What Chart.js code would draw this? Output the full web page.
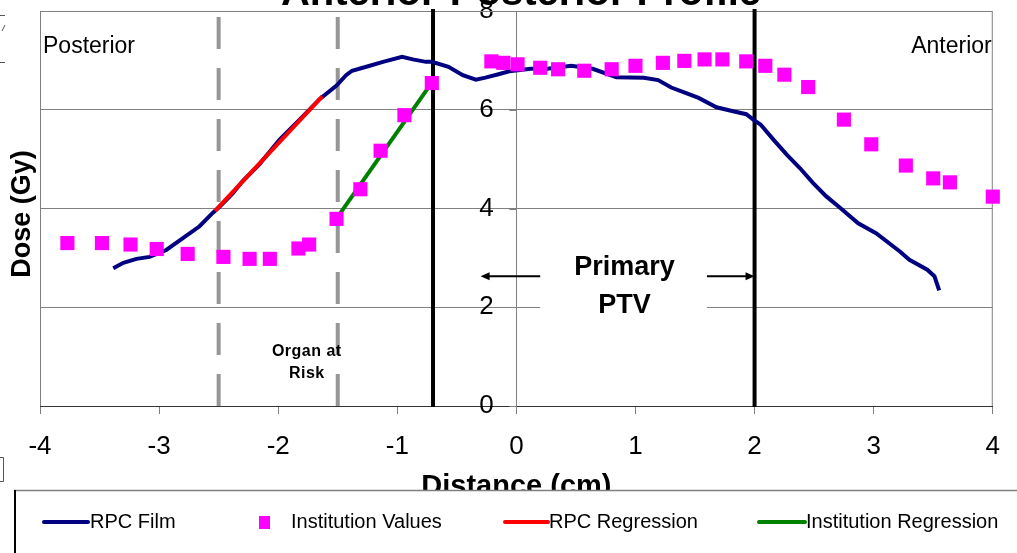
<!DOCTYPE html>
<html>
<head>
<meta charset="utf-8">
<script src="https://cdn.jsdelivr.net/npm/chart.js@4.4.1/dist/chart.umd.min.js"></script>
<style>
    body { margin: 0; background: #fff; }
    canvas { display: block; }
</style>
</head>
<body>
<canvas id="ProfileChart" width="1017" height="553"></canvas>
<script>
// RPC film profile: distance (cm) and dose (Gy)
var filmX = [-3.385, -3.30, -3.19, -3.08, -2.94, -2.80, -2.66, -2.55, -2.49, -2.38, -2.30, -2.16, -1.99, -1.82, -1.65,
    -1.51, -1.43, -1.38, -1.26, -1.12, -0.96, -0.87, -0.76, -0.71, -0.57, -0.45, -0.34, -0.26, -0.15, -0.06,
    0.12, 0.26, 0.46, 0.64, 0.84, 1.07, 1.19, 1.30, 1.42, 1.53, 1.68, 1.82, 1.93, 2.00, 2.05, 2.16, 2.27,
    2.38, 2.49, 2.60, 2.72, 2.87, 3.02, 3.22, 3.30, 3.45, 3.51, 3.55];
var filmDose = [2.79, 2.90, 2.98, 3.02, 3.16, 3.40, 3.64, 3.91, 4.04, 4.31, 4.55, 4.89, 5.39, 5.80, 6.22,
    6.49, 6.70, 6.79, 6.87, 6.97, 7.07, 7.02, 6.97, 6.97, 6.87, 6.70, 6.61, 6.65, 6.72, 6.78,
    6.83, 6.83, 6.89, 6.83, 6.66, 6.65, 6.60, 6.45, 6.34, 6.24, 6.05, 5.97, 5.91, 5.78, 5.70, 5.39, 5.09,
    4.82, 4.52, 4.25, 4.01, 3.70, 3.50, 3.13, 2.96, 2.76, 2.63, 2.34];

// Institution point values
var instX = [-3.77, -3.48, -3.24, -3.02, -2.76, -2.46, -2.24, -2.07, -1.83, -1.74, -1.51, -1.31, -1.14, -0.94, -0.71,
    -0.21, -0.11, 0.01, 0.20, 0.35, 0.57, 0.80, 1.00, 1.23, 1.41, 1.58, 1.73, 1.93, 2.09, 2.25, 2.45,
    2.75, 2.98, 3.27, 3.50, 3.64, 4.00];
var instDose = [3.30, 3.30, 3.27, 3.18, 3.08, 3.02, 2.98, 2.98, 3.19, 3.27, 3.79, 4.39, 5.17, 5.89, 6.54,
    6.98, 6.95, 6.92, 6.85, 6.82, 6.79, 6.82, 6.89, 6.95, 6.99, 7.02, 7.02, 6.98, 6.89, 6.71, 6.46,
    5.80, 5.30, 4.87, 4.61, 4.53, 4.24];

// Regression lines (end points)
var rpcRegX = [-2.53, -1.63];
var rpcRegDose = [3.95, 6.27];
var instRegX = [-1.48, -0.71];
var instRegDose = [3.90, 6.55];

// Axis ticks
var distanceTicks = [-4, -3, -2, -1, 0, 1, 2, 3, 4];
var doseTicks = [0, 2, 4, 6, 8];

// Region markers
var organBounds = [-2.5, -1.5];
var ptvBounds = [-0.7, 2];
var ptvArrowDose = 2.63;
var ptvArrowLeft = [-0.30, 0.20];
var ptvArrowRight = [1.60, 2.0];

var FONT = '"Liberation Sans", Arial, sans-serif';

function pairs(xs, ys) {
    return xs.map(function (x, i) { return { x: x, y: ys[i] }; });
}

function arrow(ctx, x1, x2, y) {
    var dir = x2 > x1 ? 1 : -1;
    ctx.beginPath();
    ctx.moveTo(x1, y);
    ctx.lineTo(x2 - dir * 6, y);
    ctx.stroke();
    ctx.beginPath();
    ctx.moveTo(x2, y);
    ctx.lineTo(x2 - dir * 9, y - 4);
    ctx.lineTo(x2 - dir * 9, y + 4);
    ctx.closePath();
    ctx.fill();
}

var profileDecor = {
    id: 'profileDecor',
    beforeDatasetsDraw: function (chart) {
        var ctx = chart.ctx, area = chart.chartArea;
        var xs = chart.scales.x, ys = chart.scales.y;
        ctx.save();

        // plot frame
        ctx.strokeStyle = '#808080';
        ctx.lineWidth = 1;
        ctx.beginPath();
        ctx.moveTo(area.left + 0.5, area.bottom);
        ctx.lineTo(area.left + 0.5, area.top + 0.5);
        ctx.lineTo(area.right - 0.5, area.top + 0.5);
        ctx.lineTo(area.right - 0.5, area.bottom);
        ctx.stroke();

        // tick marks on the dose axis
        var ax = xs.getPixelForValue(0);
        ctx.beginPath();
        doseTicks.forEach(function (v) {
            var py = Math.round(ys.getPixelForValue(v)) + 0.5;
            ctx.moveTo(ax - 7, py);
            ctx.lineTo(ax, py);
        });
        ctx.stroke();

        // organ at risk (dashed)
        ctx.strokeStyle = '#969696';
        ctx.lineWidth = 4;
        ctx.setLineDash([32, 19]);
        organBounds.forEach(function (v) {
            var px = xs.getPixelForValue(v);
            ctx.beginPath();
            ctx.moveTo(px, area.top + 6);
            ctx.lineTo(px, area.bottom);
            ctx.stroke();
        });
        ctx.setLineDash([]);

        // PTV boundaries
        ctx.strokeStyle = '#000';
        ctx.lineWidth = 4;
        ptvBounds.forEach(function (v) {
            var px = xs.getPixelForValue(v);
            ctx.beginPath();
            ctx.moveTo(px, area.top - 2);
            ctx.lineTo(px, area.bottom + 1);
            ctx.stroke();
        });

        // PTV label with white box
        var ay = ys.getPixelForValue(ptvArrowDose);
        var bl = xs.getPixelForValue(ptvArrowLeft[1]);
        var br = xs.getPixelForValue(ptvArrowRight[0]);
        ctx.fillStyle = '#fff';
        ctx.fillRect(bl, ay - 25, br - bl, 70);
        ctx.fillStyle = '#000';
        ctx.strokeStyle = '#000';
        ctx.lineWidth = 2;
        arrow(ctx, bl, xs.getPixelForValue(ptvArrowLeft[0]), ay);
        arrow(ctx, br, xs.getPixelForValue(ptvArrowRight[1]), ay);
        ctx.font = 'bold 27px ' + FONT;
        ctx.textAlign = 'center';
        ctx.textBaseline = 'alphabetic';
        var cx = (bl + br) / 2 + 1;
        ctx.fillText('Primary', cx, ay - 1);
        ctx.fillText('PTV', cx, ay + 37);

        // organ at risk label
        var ox = xs.getPixelForValue((organBounds[0] + organBounds[1]) / 2 + 0.24);
        ctx.font = 'bold 16px ' + FONT;
        ctx.letterSpacing = '0.5px';
        ctx.fillText('Organ at', ox, 356);
        ctx.fillText('Risk', ox, 378);
        ctx.letterSpacing = '0px';

        // side labels
        ctx.font = '23px ' + FONT;
        ctx.textAlign = 'left';
        ctx.fillText('Posterior', area.left + 3, 53);
        ctx.textAlign = 'right';
        ctx.fillText('Anterior', area.right - 1, 53);
        ctx.restore();
    },
    afterDraw: function (chart) {
        var ctx = chart.ctx;
        ctx.save();

        // clipped title
        ctx.fillStyle = '#000';
        ctx.font = 'bold 40px ' + FONT;
        ctx.textAlign = 'center';
        ctx.textBaseline = 'alphabetic';
        ctx.fillText('Anterior-Posterior Profile', 521, 5);

        // y title
        ctx.save();
        ctx.translate(23, 214);
        ctx.rotate(-Math.PI / 2);
        ctx.font = 'bold 27px ' + FONT;
        ctx.textAlign = 'center';
        ctx.textBaseline = 'middle';
        ctx.fillText('Dose (Gy)', 0, 0);
        ctx.restore();

        // stray edge marks
        ctx.strokeStyle = '#555';
        ctx.lineWidth = 1;
        ctx.beginPath();
        ctx.moveTo(0, 15.5); ctx.lineTo(5, 15.5);
        ctx.moveTo(5, 25); ctx.lineTo(2, 31);
        ctx.moveTo(0, 62.5); ctx.lineTo(5, 62.5);
        ctx.moveTo(0, 457.5); ctx.lineTo(3.5, 457.5); ctx.lineTo(3.5, 481.5); ctx.lineTo(0, 481.5);
        ctx.stroke();

        // legend box
        ctx.fillStyle = '#fff';
        ctx.fillRect(14, 490, 1010, 70);
        ctx.strokeStyle = '#808080';
        ctx.lineWidth = 1.5;
        ctx.beginPath();
        ctx.moveTo(14, 490.5);
        ctx.lineTo(1017, 490.5);
        ctx.stroke();
        ctx.strokeStyle = '#000';
        ctx.lineWidth = 2;
        ctx.beginPath();
        ctx.moveTo(15, 490);
        ctx.lineTo(15, 553);
        ctx.stroke();

        var ly = 522;
        var slots = [
            { ds: 0, x1: 44, x2: 88, tx: 90 },
            { ds: 1, x1: 259, x2: 270, tx: 291 },
            { ds: 2, x1: 505, x2: 548, tx: 549 },
            { ds: 3, x1: 759, x2: 805, tx: 806 }
        ];
        ctx.font = '20px ' + FONT;
        ctx.textAlign = 'left';
        ctx.textBaseline = 'middle';
        slots.forEach(function (s) {
            var d = chart.data.datasets[s.ds];
            if (d.showLine === false) {
                ctx.fillStyle = d.backgroundColor;
                ctx.fillRect(s.x1, ly - 6, s.x2 - s.x1, 13);
            } else {
                ctx.strokeStyle = d.borderColor;
                ctx.lineWidth = 4;
                ctx.lineCap = 'round';
                ctx.beginPath();
                ctx.moveTo(s.x1, ly);
                ctx.lineTo(s.x2, ly);
                ctx.stroke();
            }
            ctx.fillStyle = '#000';
            ctx.fillText(d.label, s.tx, ly);
        });
        ctx.restore();
    }
};

function fixedTicks(values) {
    return function (scale) {
        scale.ticks = values.map(function (v) { return { value: v }; });
    };
}

// vertical scales sit inside the plot, they need no extra room
function noPadding(scale) {
    scale.paddingTop = 0;
    scale.paddingBottom = 0;
}

var ctx = document.getElementById('ProfileChart').getContext('2d');
var profileChart = new Chart(ctx, {
    type: 'scatter',
    data: {
        datasets: [{
            label: 'RPC Film',
            data: pairs(filmX, filmDose),
            showLine: true,
            borderColor: '#000080',
            backgroundColor: '#000080',
            borderWidth: 4,
            pointRadius: 0,
            tension: 0,
            clip: false,
            order: 3
        }, {
            label: 'Institution Values',
            data: pairs(instX, instDose),
            showLine: false,
            pointStyle: 'rect',
            pointRadius: 10,
            pointBorderWidth: 0,
            backgroundColor: '#FF00FF',
            borderColor: '#FF00FF',
            clip: false,
            order: 0
        }, {
            label: 'RPC Regression',
            data: pairs(rpcRegX, rpcRegDose),
            showLine: true,
            borderColor: '#FF0000',
            backgroundColor: '#FF0000',
            borderWidth: 4,
            pointRadius: 0,
            clip: false,
            order: 1
        }, {
            label: 'Institution Regression',
            data: pairs(instRegX, instRegDose),
            showLine: true,
            borderColor: '#008000',
            backgroundColor: '#008000',
            borderWidth: 4,
            pointRadius: 0,
            clip: false,
            order: 2
        }]
    },
    options: {
        responsive: false,
        animation: false,
        layout: {
            padding: { left: 40, right: 24, top: 11, bottom: 45 }
        },
        plugins: {
            legend: { display: false },
            tooltip: { enabled: false },
            title: { display: false }
        },
        scales: {
            x: {
                type: 'linear',
                min: -4,
                max: 4,
                afterBuildTicks: fixedTicks(distanceTicks),
                grid: {
                    drawOnChartArea: false,
                    tickLength: 8,
                    color: '#808080'
                },
                border: { color: '#333333' },
                ticks: {
                    padding: 17,
                    color: '#000',
                    maxRotation: 0,
                    font: { family: FONT, size: 26 }
                },
                title: {
                    display: true,
                    text: 'Distance (cm)',
                    color: '#000',
                    padding: { top: -10, bottom: 4 },
                    font: { family: FONT, size: 29, weight: 'bold' }
                }
            },
            y: {
                type: 'linear',
                position: { x: 0 },
                min: 0,
                max: 8,
                afterBuildTicks: fixedTicks(doseTicks),
                afterFit: noPadding,
                grid: {
                    color: '#808080',
                    drawTicks: false
                },
                border: { color: '#808080' },
                ticks: { display: false }
            },
            yLabels: {
                type: 'linear',
                position: { x: -0.19 },
                min: 0,
                max: 8,
                afterBuildTicks: fixedTicks(doseTicks),
                afterFit: noPadding,
                grid: { display: false },
                border: { display: false },
                ticks: {
                    color: '#000',
                    font: { family: FONT, size: 26 }
                }
            }
        }
    },
    plugins: [profileDecor]
});
</script>
</body>
</html>
